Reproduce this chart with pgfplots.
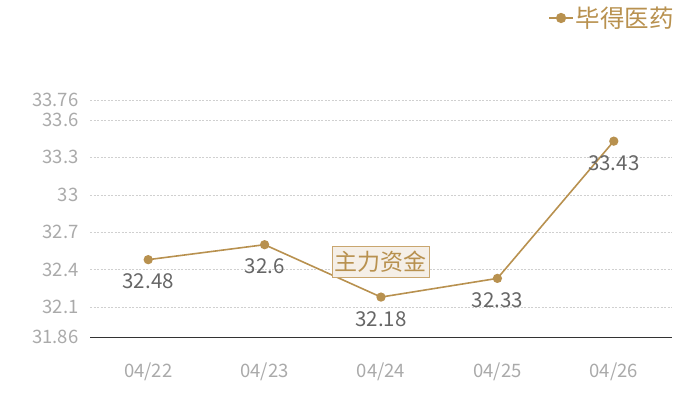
\documentclass[border=0pt]{standalone}
\usepackage{pgfplots}
\pgfplotsset{compat=1.18}
\usepackage{fontspec}
\setmainfont{Noto Sans CJK SC}
\definecolor{linec}{HTML}{B8914F}
\definecolor{tickc}{HTML}{AAAAAA}
\definecolor{labc}{HTML}{666666}
\definecolor{gridc}{HTML}{D0D0D0}
\definecolor{boxfill}{HTML}{F5EFE7}
\definecolor{boxdraw}{HTML}{C9A66F}
\begin{document}
\begin{tikzpicture}
\path[use as bounding box] (0,0) rectangle (700bp,400bp);
\begin{axis}[
  at={(90bp,63bp)}, anchor=south west,
  scale only axis, width=582bp, height=237bp,
  xmin=-0.5, xmax=4.5, ymin=31.86, ymax=33.76,
  xtick={0,1,2,3,4},
  xticklabels={04/22,04/23,04/24,04/25,04/26},
  ytick={31.86,32.1,32.4,32.7,33,33.3,33.6,33.76},
  yticklabels={31.86,32.1,32.4,32.7,33,33.3,33.6,33.76},
  axis x line=bottom, axis y line=left,
  x axis line style={-, draw=black!80, line width=0.8bp},
  y axis line style={draw=none},
  major tick length=0,
  ymajorgrids, major grid style={gridc, dash pattern=on 2bp off 1.5bp, line width=0.5bp},
  ticklabel style={font=\fontsize{18.5bp}{20bp}\selectfont, text=tickc},
  xticklabel style={yshift=-22bp},
  yticklabel style={xshift=-8bp},
  /pgf/number format/assume math mode=true,
  clip=false,
  legend style={at={(axis description cs:0.897,1.346)}, anchor=center, draw=none, fill=none,
    font=\fontsize{24.5bp}{26bp}\selectfont, text=linec},
  legend cell align=left,
  legend image code/.code={\draw[mark repeat=2,mark phase=2, line width=1.2bp, mark size=4.5bp] plot coordinates {(0cm,0cm) (0.42cm,0cm) (0.84cm,0cm)};},
]
\addplot[linec, line width=1.6bp, mark=*, mark size=3.8bp, mark options={fill=linec, draw=linec},
  nodes near coords, point meta=explicit symbolic,
  every node near coord/.style={anchor=north, yshift=-10bp, font=\fontsize{20.5bp}{22bp}\selectfont, text=labc}]
  coordinates {(0,32.48)[32.48] (1,32.6)[32.6] (2,32.18)[32.18] (3,32.33)[32.33] (4,33.43)[33.43]};
\addlegendentry{毕得医药}
\node[fill=boxfill, draw=boxdraw, line width=0.8bp, text=linec, inner xsep=2.5bp, inner ysep=5bp,
  font=\fontsize{23bp}{24bp}\selectfont] at (rel axis cs:0.5,0.316) {主力资金};
\end{axis}
\end{tikzpicture}
\end{document}
